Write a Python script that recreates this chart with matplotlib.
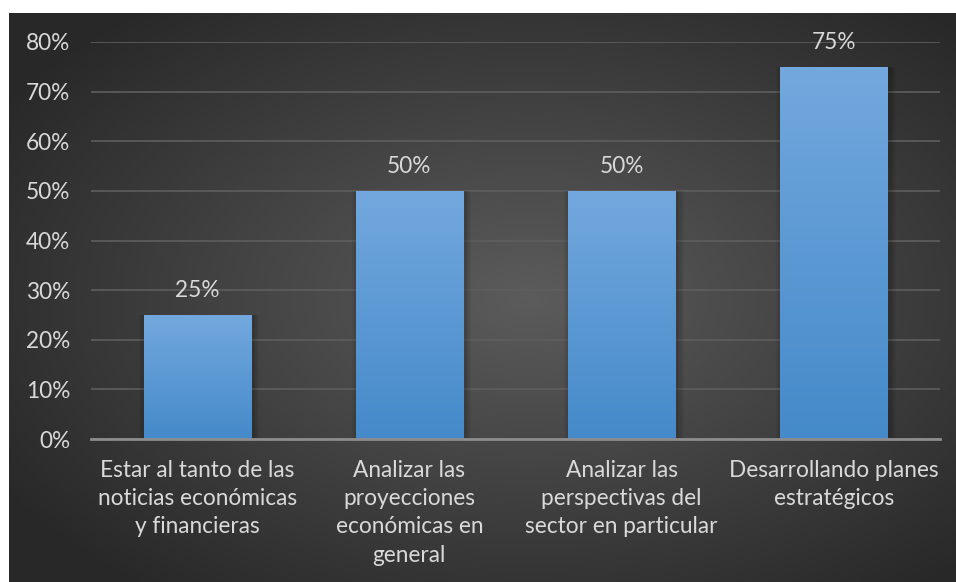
import numpy as np
import matplotlib
matplotlib.use("Agg")
import matplotlib.pyplot as plt
from matplotlib.ticker import PercentFormatter

categories = [
    "Estar al tanto de las\nnoticias económicas\ny financieras",
    "Analizar las\nproyecciones\neconómicas en\ngeneral",
    "Analizar las\nperspectivas del\nsector en particular",
    "Desarrollando planes\nestratégicos",
]
values = [0.25, 0.50, 0.50, 0.75]
yticks = [0.0, 0.1, 0.2, 0.3, 0.4, 0.5, 0.6, 0.7, 0.8]

TEXT = "#d9d9d9"
FONT = ["Lato", "DejaVu Sans"]
plt.rcParams["font.family"] = FONT
FS = 16.3

W, H, DPI = 956, 582, 100
fig = plt.figure(figsize=(W / DPI, H / DPI), dpi=DPI, facecolor="white")

# dark panel with a soft radial glow in the middle
bg = fig.add_axes([9 / W, 0, 1 - 9 / W, (H - 13) / H])
yy, xx = np.mgrid[0:1:300j, 0:1:500j]
r = np.sqrt(((xx - 0.55) / 0.65) ** 2 + ((yy - 0.5) / 0.65) ** 2)
shade = np.clip(1 - r, 0, 1)
lum = 0.16 + 0.2 * shade
bg.imshow(np.dstack([lum, lum, lum]), aspect="auto", extent=[0, 1, 0, 1],
          interpolation="bicubic")
bg.set_axis_off()

ax = fig.add_axes([91 / W, 143 / H, 849 / W, 397 / H])
ax.set_facecolor("none")
x = np.arange(len(categories))

# soft shadow behind the bars
for grow, a in [(0.06, 0.05), (0.04, 0.07), (0.02, 0.09)]:
    ax.bar(x + 0.01, values, width=0.505 + grow, color="black", alpha=a,
           zorder=2, linewidth=0)

bars = ax.bar(x, values, width=0.505, color="#5b9bd5", zorder=3, linewidth=0)
grad = np.linspace(0, 1, 256).reshape(-1, 1)
top = np.array([0.45, 0.66, 0.87])
bottom = np.array([0.27, 0.54, 0.79])
img = bottom + (top - bottom) * grad[..., None]
for b in bars:
    bx, bw, bh = b.get_x(), b.get_width(), b.get_height()
    im = ax.imshow(img.reshape(256, 1, 3), aspect="auto", origin="lower",
                   extent=[bx, bx + bw, 0, bh], zorder=4)
    im.set_clip_path(b)
ax.set_xlim(-0.5, len(categories) - 0.5)
ax.set_ylim(0, 0.8)

for xi, v in zip(x, values):
    ax.annotate(f"{v:.0%}", (xi, v), xytext=(0, 10), textcoords="offset points",
                ha="center", va="bottom", color=TEXT, fontsize=FS)

ax.set_yticks(yticks)
ax.yaxis.set_major_formatter(PercentFormatter(1.0, decimals=0))
ax.grid(axis="y", color="#5e5e5e", linewidth=1.2, zorder=1)
ax.set_axisbelow(True)
ax.set_xticks(x)
ax.set_xticklabels(categories, linespacing=1.43)
ax.tick_params(axis="y", length=0, pad=15, labelsize=FS, labelcolor=TEXT)
ax.tick_params(axis="x", length=0, pad=15, labelsize=FS, labelcolor=TEXT)
for s in ["top", "right", "left"]:
    ax.spines[s].set_visible(False)
ax.spines["bottom"].set_color("#8c8c8c")
ax.spines["bottom"].set_linewidth(2)
ax.spines["bottom"].set_zorder(5)

fig.savefig("out.png", dpi=DPI, facecolor="white")
